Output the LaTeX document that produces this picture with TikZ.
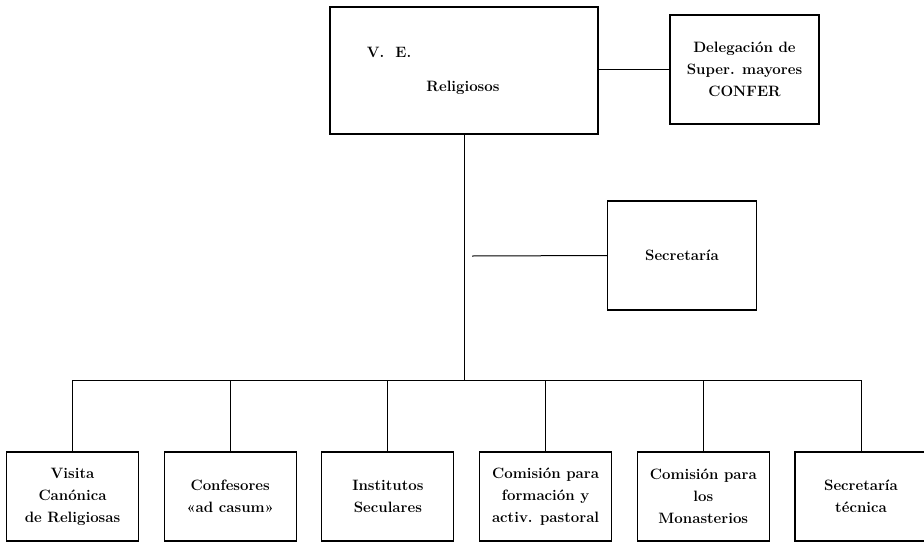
\documentclass[tikz,border=0pt]{standalone}
\usepackage{fontspec}
\usetikzlibrary{positioning}
\tikzstyle{unit} = [rectangle, draw=black, line width=1.1pt, minimum width=132pt, minimum height=89pt, inner sep=0pt, align=center, text centered, font=\fontsize{15}{22}\selectfont\bfseries]
\tikzstyle{head} = [unit, minimum width=268pt, minimum height=127pt]
\tikzstyle{side} = [unit, minimum width=149pt, minimum height=109pt]
\tikzstyle{boxtext} = [inner sep=0pt, font=\fontsize{15}{22}\selectfont\bfseries]
\tikzstyle{link} = [draw=black, line width=1pt]
\begin{document}
\begin{tikzpicture}[x=1pt, y=-1pt]
	\useasboundingbox (0,0) rectangle (924,544);
	
		\node (ve) [head] at (464,70.5) {};
		\node (ve-mark) [boxtext] at (389,52) {V.\ \ E.};
		\node (ve-name) [boxtext] at (463,88) {Religiosos};
		
		\node (delegacion) [side] at (744.5,69.5) {Delegación de\\Super. mayores\\CONFER};
		\node (secretaria) [side] at (682,255.5) {Secretaría};
		
		\node (visita) [unit] at (72.5,496.5) {Visita\\Canónica\\de Religiosas};
		\node (confesores) [unit, right=24.6pt of visita] {Confesores\\«ad casum»};
		\node (institutos) [unit, right=24.6pt of confesores] {Institutos\\Seculares};
		\node (formacion) [unit, right=24.6pt of institutos] {Comisión para\\formación y\\activ. pastoral};
		\node (monasterios) [unit, right=24.6pt of formacion] {Comisión para\\los\\Monasterios};
		\node (tecnica) [unit, right=24.6pt of monasterios] {Secretaría\\técnica};
		
		\coordinate (bus) at (464,380);
		\coordinate (sec-stub) at (472,256);
		
		\draw[link] (ve.east |- delegacion.west) -- (delegacion.west);
		\draw[link] (ve.south) -- (bus);
		\draw[link] (sec-stub) -- (secretaria.west);
		\draw[link] (visita.north |- bus) -- (tecnica.north |- bus);
		\draw[link] (visita.north |- bus) -- (visita.north);
		\draw[link] (confesores.north |- bus) -- (confesores.north);
		\draw[link] (institutos.north |- bus) -- (institutos.north);
		\draw[link] (formacion.north |- bus) -- (formacion.north);
		\draw[link] (monasterios.north |- bus) -- (monasterios.north);
		\draw[link] (tecnica.north |- bus) -- (tecnica.north);
	\end{tikzpicture}
\end{document}
